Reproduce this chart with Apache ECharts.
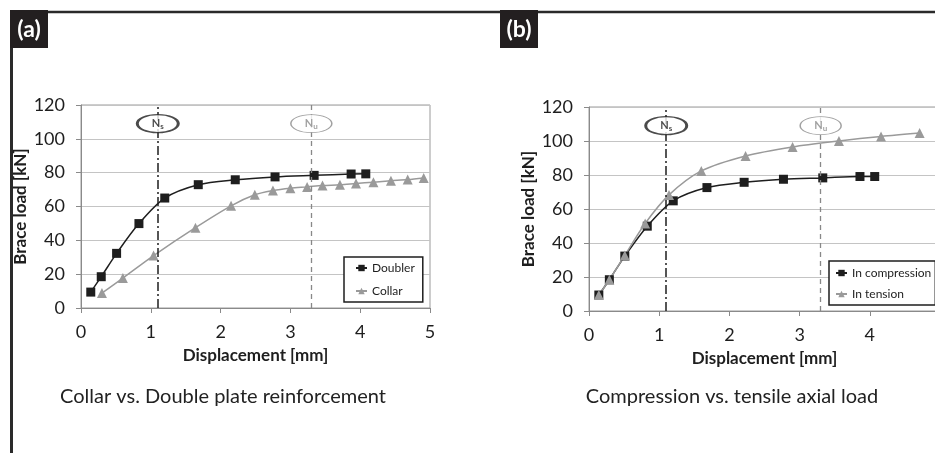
<!DOCTYPE html>
<html>
<head>
<meta charset="utf-8">
<title>Brace load vs displacement</title>
<script src="https://cdn.jsdelivr.net/npm/echarts@6/dist/echarts.min.js"></script>
<style>
  html, body { margin: 0; padding: 0; background: #fff; }
  #chart { width: 935px; height: 453px; }
</style>
</head>
<body>
<div id="chart"></div>
<script>
// (a) collar vs. doubler plate
const doublerDisp = [0.14, 0.29, 0.51, 0.83, 1.2, 1.68, 2.21, 2.78, 3.34, 3.87, 4.08];
const doublerLoad = [9.4, 18.5, 32.3, 49.9, 65.0, 72.9, 75.8, 77.5, 78.4, 79.2, 79.3];
const collarDisp = [0.3, 0.6, 1.04, 1.64, 2.15, 2.49, 2.75, 3.0, 3.24, 3.46, 3.71, 3.94, 4.19, 4.44, 4.68, 4.91];
const collarLoad = [8.8, 17.7, 31.0, 47.5, 60.4, 66.9, 69.4, 70.8, 71.6, 72.4, 72.8, 73.6, 74.4, 75.2, 75.9, 76.9];

// (b) compression vs. tension
const compDisp = [0.14, 0.29, 0.51, 0.83, 1.2, 1.68, 2.21, 2.77, 3.33, 3.86, 4.07];
const compLoad = [9.4, 18.4, 32.3, 49.9, 64.8, 72.6, 75.7, 77.5, 78.3, 79.1, 79.1];
const tensDisp = [0.14, 0.29, 0.51, 0.80, 1.14, 1.60, 2.23, 2.90, 3.56, 4.16, 4.71];
const tensLoad = [9.4, 18.4, 32.7, 51.5, 68.3, 82.4, 91.2, 96.5, 100.0, 102.7, 104.7];

// limit lines and their labels
const nsDisp = 1.1;
const nuDisp = 3.3;
const limitLabelLoad = 109;

const xTicks = [0, 1, 2, 3, 4, 5];
const yTicks = [0, 20, 40, 60, 80, 100, 120];

const captions = ["Collar vs. Double plate reinforcement", "Compression vs. tensile axial load"];
const panelLabels = ["(a)", "(b)"];

const BLACK = "#1e1e1e";
const GREY = "#9a9a9a";
const ELLIPSE = "path://M0,50C0,22,22,0,50,0C78,0,100,22,100,50C100,78,78,100,50,100C22,100,0,78,0,50Z";

function zip(xs, ys) {
  return xs.map((x, i) => [x, ys[i]]);
}

function xAxisFor(gridIndex) {
  return {
    gridIndex,
    type: "value",
    min: xTicks[0],
    max: xTicks[xTicks.length - 1],
    interval: 1,
    name: "Displacement [mm]",
    nameLocation: "middle",
    nameGap: 39,
    nameTextStyle: { fontFamily: "Lato", fontWeight: "bold", fontSize: 17, color: BLACK },
    axisLine: { show: true, onZero: false, lineStyle: { color: "#8a8a8a", width: 1 } },
    axisTick: { show: true, inside: false, length: 5, lineStyle: { color: "#8a8a8a" } },
    axisLabel: { fontFamily: "Lato", fontSize: 18, color: BLACK, margin: 15 },
    splitLine: { show: false },
  };
}

function yAxisFor(gridIndex) {
  return {
    gridIndex,
    type: "value",
    min: yTicks[0],
    max: yTicks[yTicks.length - 1],
    interval: 20,
    name: "Brace load [kN]",
    nameLocation: "middle",
    nameGap: 52,
    nameTextStyle: { fontFamily: "Lato", fontWeight: "bold", fontSize: 17, color: BLACK },
    axisLine: { show: true, lineStyle: { color: "#8a8a8a", width: 1 } },
    axisTick: { show: true, inside: false, length: 5, lineStyle: { color: "#8a8a8a" } },
    axisLabel: { fontFamily: "Lato", fontSize: 18, color: BLACK, margin: 16 },
    splitLine: { show: true, lineStyle: { color: "#c4c4c4", width: 1 } },
  };
}

function curve(name, idx, xs, ys, color, symbol, size) {
  return {
    name,
    type: "line",
    xAxisIndex: idx,
    yAxisIndex: idx,
    data: zip(xs, ys),
    smooth: 0.3,
    symbol,
    symbolSize: size,
    showAllSymbol: true,
    lineStyle: { color, width: 1.5 },
    itemStyle: { color },
    z: 3,
  };
}

function limitLines(idx) {
  return {
    type: "line",
    xAxisIndex: idx,
    yAxisIndex: idx,
    data: [],
    silent: true,
    markLine: {
      silent: true,
      symbol: "none",
      label: { show: false },
      animation: false,
      data: [
        { xAxis: nsDisp, lineStyle: { color: BLACK, width: 1.5, type: [9, 3, 2, 3] } },
        { xAxis: nuDisp, lineStyle: { color: "#888", width: 1.3, type: [5, 4] } },
      ],
    },
  };
}

function limitTag(idx, disp, sub, color, borderWidth) {
  return {
    type: "scatter",
    xAxisIndex: idx,
    yAxisIndex: idx,
    silent: true,
    z: 5,
    data: [[disp, limitLabelLoad]],
    symbol: ELLIPSE,
    symbolSize: [41, 18],
    itemStyle: { color: "#fff", borderColor: color, borderWidth },
    label: {
      show: true,
      position: "inside",
      formatter: "{n|N}{s|" + sub + "}",
      rich: {
        n: { fontFamily: "Lato", fontSize: 11, fontWeight: "bold", color },
        s: { fontFamily: "Lato", fontSize: 8, fontWeight: "bold", color, padding: [5, 0, 0, 0] },
      },
    },
  };
}

const legendText = { fontFamily: "Lato", fontSize: 12, color: BLACK, lineHeight: 14 };

const option = {
  animation: false,
  backgroundColor: "#fff",
  grid: [
    { left: 81, top: 105, width: 349, height: 203, show: true, borderColor: "#9a9a9a", borderWidth: 1, outerBoundsMode: "none" },
    { left: 589, top: 107, width: 351, height: 204, show: true, borderColor: "#9a9a9a", borderWidth: 1, outerBoundsMode: "none" },
  ],
  xAxis: [xAxisFor(0), xAxisFor(1)],
  yAxis: [yAxisFor(0), yAxisFor(1)],
  legend: [
    {
      data: ["Doubler", "Collar"],
      left: 344,
      top: 257,
      orient: "vertical",
      itemGap: 9,
      itemWidth: 11,
      itemHeight: 8,
      padding: [4, 8, 4, 11],
      borderColor: BLACK,
      borderWidth: 1.5,
      borderRadius: 0,
      backgroundColor: "#fff",
      textStyle: legendText,
    },
    {
      data: ["In compression", "In tension"],
      left: 829,
      top: 261,
      orient: "vertical",
      itemGap: 7,
      itemWidth: 11,
      itemHeight: 8,
      padding: [5, 4, 4, 6],
      borderColor: BLACK,
      borderWidth: 1.5,
      borderRadius: 0,
      backgroundColor: "#fff",
      textStyle: legendText,
    },
  ],
  series: [
    limitLines(0),
    curve("Doubler", 0, doublerDisp, doublerLoad, BLACK, "rect", 9),
    curve("Collar", 0, collarDisp, collarLoad, GREY, "triangle", 10),
    limitTag(0, nsDisp, "s", BLACK, 2),
    limitTag(0, nuDisp, "u", "#8a8a8a", 1),
    limitLines(1),
    curve("In compression", 1, compDisp, compLoad, BLACK, "rect", 9),
    curve("In tension", 1, tensDisp, tensLoad, GREY, "triangle", 10),
    limitTag(1, nsDisp, "s", BLACK, 2),
    limitTag(1, nuDisp, "u", "#8a8a8a", 1),
  ],
  graphic: [
    // outer frame
    { type: "line", shape: { x1: 10, y1: 12, x2: 935, y2: 12 }, style: { stroke: "#2a2a2a", lineWidth: 2.5 } },
    { type: "line", shape: { x1: 11.5, y1: 10, x2: 11.5, y2: 453 }, style: { stroke: "#2a2a2a", lineWidth: 3 } },
    // panel tags
    { type: "rect", shape: { x: 10, y: 10, width: 38, height: 38 }, style: { fill: "#231f20" } },
    { type: "text", x: 29, y: 30, style: { text: panelLabels[0], fill: "#fff", font: "bold 23px Lato", align: "center", verticalAlign: "middle" } },
    { type: "rect", shape: { x: 500, y: 10, width: 38, height: 38 }, style: { fill: "#231f20" } },
    { type: "text", x: 519, y: 30, style: { text: panelLabels[1], fill: "#fff", font: "bold 23px Lato", align: "center", verticalAlign: "middle" } },
    // captions
    { type: "text", x: 223, y: 397, style: { text: captions[0], fill: "#222", font: "20px Lato", align: "center", verticalAlign: "middle" } },
    { type: "text", x: 732, y: 397, style: { text: captions[1], fill: "#222", font: "20px Lato", align: "center", verticalAlign: "middle" } },
  ],
};

const chart = echarts.init(document.getElementById("chart"), null, { renderer: "canvas" });
chart.setOption(option);
</script>
</body>
</html>
